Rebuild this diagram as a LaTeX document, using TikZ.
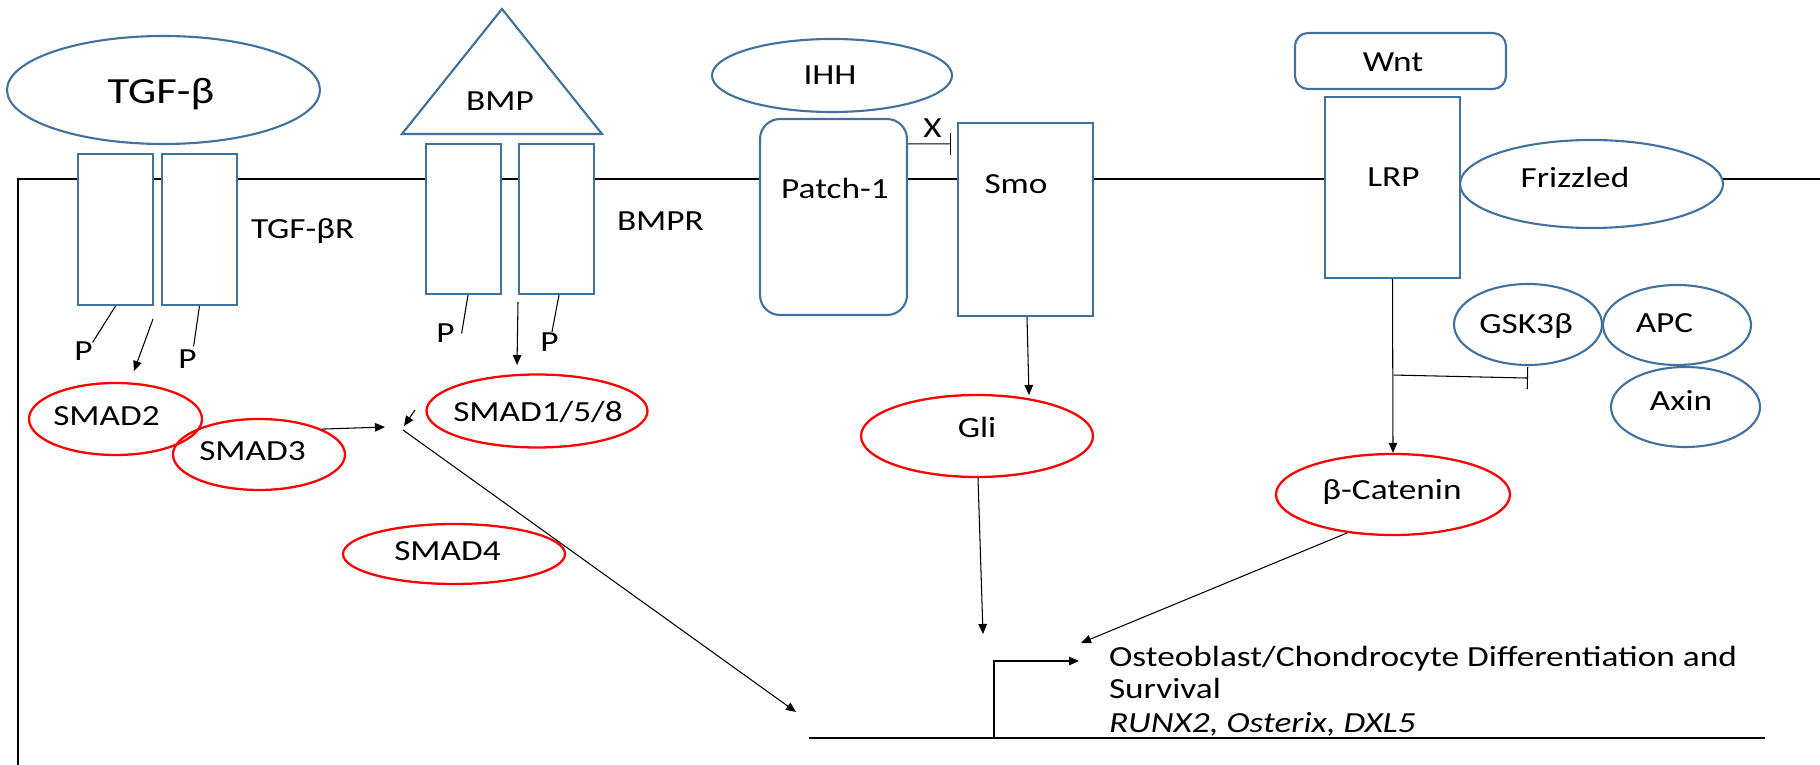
\documentclass[tikz,border=0pt]{standalone}
\usepackage{fontspec}
\setmainfont{Carlito}
\usetikzlibrary{shapes.geometric,arrows.meta,calc}
\definecolor{protblue}{RGB}{65,113,156}
\definecolor{factorred}{RGB}{255,0,0}
\newcommand{\wtext}[1]{\scalebox{1.21}[1]{#1}}

\tikzset{
  lbl/.style={font=\fontsize{8.3}{9.5}\selectfont, text height=5.2pt, text depth=0pt, inner sep=0pt, outer sep=0pt},
  biglbl/.style={font=\fontsize{10.5}{12}\selectfont, text height=6.6pt, text depth=0pt, inner sep=0pt, outer sep=0pt},
  protein/.style={ellipse, draw=protblue, line width=0.6pt, fill=white, inner sep=0pt},
  factor/.style={ellipse, draw=factorred, line width=0.65pt, inner sep=0pt},
  recbox/.style={rectangle, draw=protblue, line width=0.6pt, fill=white, inner sep=0pt},
  membrane/.style={line width=0.6pt},
  dna/.style={line width=0.65pt},
  link/.style={line width=0.3pt},
  signal/.style={link, -{Triangle[length=1mm,width=0.85mm]}},
  inhibit/.style={link, -{Bar[width=2.2mm]}},
}

\begin{document}
\begin{tikzpicture}[x=0.1mm, y=-0.1mm]
\useasboundingbox (0,0) rectangle (1820,765);

% cell membrane
\coordinate (cellBL) at (18,765);
\coordinate (cellTL) at (18,179);
\coordinate (cellTR) at (1820,179);
\draw[membrane] (cellBL) -- (cellTL) -- (cellTR);

% ---------------- TGF-beta pathway ----------------
\node[protein, minimum width=31.3mm, minimum height=10.8mm] (tgf) at (163.5,90) {};
\node[biglbl] (tgfT) at (161,91.5) {\wtext{TGF-β}};
\node[recbox, minimum width=7.5mm, minimum height=15.1mm] (tgfr1) at (115.5,229.5) {};
\node[recbox, minimum width=7.5mm, minimum height=15.1mm] (tgfr2) at (199.5,229.5) {};
\node[lbl, anchor=west] (tgfrT) at (251,229) {\wtext{TGF-βR}};
\node[lbl] (tp1) at (83.5,351.5) {\wtext{P}};
\node[lbl] (tp2) at (187.5,359.5) {\wtext{P}};
\draw[link] (tgfr1.south) -- (tp1.north east);
\draw[link] (tgfr2.south) -- ($(tp2.north east)+(-3,-4)$);
\coordinate (tgfout) at (153,319);
\coordinate (tgfdst) at (134,371);
\draw[signal] (tgfout) -- (tgfdst);

% ---------------- BMP pathway ----------------
\coordinate (bmpL) at (402,134);
\coordinate (bmpA) at (502,9);
\coordinate (bmpR) at (602,134);
\draw[draw=protblue, line width=0.6pt, fill=white] (bmpL) -- (bmpA) -- (bmpR) -- cycle;
\node[lbl] (bmpT) at (500,101) {\wtext{BMP}};
\node[recbox, minimum width=7.5mm, minimum height=15mm] (bmpr1) at (463.5,219) {};
\node[recbox, minimum width=7.5mm, minimum height=15mm] (bmpr2) at (556.5,219) {};
\node[lbl, anchor=west] (bmprT) at (617,221.5) {\wtext{BMPR}};
\node[lbl] (bp1) at (445.5,333.5) {\wtext{P}};
\node[lbl] (bp2) at (549.5,342) {\wtext{P}};
\draw[link] ([xshift=0.45mm]bmpr1.south) -- ($(bp1.east)+(7,0)$);
\draw[link] ([xshift=0.25mm]bmpr2.south) -- ($(bp2.north)+(2.5,-1)$);
\coordinate (bmpout) at (518,302);
\coordinate (bmpdst) at (517,365);
\draw[signal] (bmpout) -- (bmpdst);

% SMAD proteins
\node[factor, minimum width=17.3mm, minimum height=7.2mm] (smad2) at (115.5,419) {};
\node[lbl] (smad2T) at (106.5,416.5) {\wtext{SMAD2}};
\node[factor, minimum width=17.2mm, minimum height=7.1mm] (smad3) at (259,454.5) {};
\node[lbl] (smad3T) at (252.5,451.5) {\wtext{SMAD3}};
\node[factor, minimum width=22.1mm, minimum height=7.3mm] (smad158) at (537,411) {};
\node[lbl] (smad158T) at (538,412.5) {\wtext{SMAD1/5/8}};
\node[factor, minimum width=22.2mm, minimum height=6.0mm] (smad4) at (454,554) {};
\node[lbl] (smad4T) at (447.5,551.5) {\wtext{SMAD4}};
\coordinate (smadjoin) at (385,427);
\draw[signal] (smad3.22) -- (smadjoin);
\coordinate (bmpsmadA) at (415,410);
\coordinate (bmpsmadB) at (404,426);
\draw[signal] (bmpsmadA) -- (bmpsmadB);
\coordinate (smadout) at (403,430);
\coordinate (smadtip) at (796,712);
\draw[signal] (smadout) -- (smadtip);

% ---------------- Hedgehog pathway ----------------
\node[protein, minimum width=24mm, minimum height=7.3mm] (ihh) at (832,75.5) {};
\node[lbl] (ihhT) at (830,75.5) {\wtext{IHH}};
\node[recbox, rounded corners=2mm, minimum width=14.7mm, minimum height=19.6mm] (patch) at (833.5,217) {};
\node[lbl] (patchT) at (835,189) {\wtext{Patch-1}};
\node[recbox, minimum width=13.5mm, minimum height=19.3mm] (smo) at (1025.5,219.5) {};
\node[lbl] (smoT) at (1016,184) {\wtext{Smo}};
\node[lbl] (xT) at (932.5,128.5) {\wtext{X}};
\draw[inhibit] ($(patch.north east)+(0,26)$) -- ($(smo.north west)+(-6,22)$);
\node[factor, minimum width=23.2mm, minimum height=8.2mm] (gli) at (977,436) {};
\node[lbl] (gliT) at (977,428.5) {\wtext{Gli}};
\draw[signal] ([xshift=0.15mm]smo.south) -- ($(smo.south)+(3.5,78)$);
\coordinate (glitip) at (983,634);
\draw[signal] ([xshift=0.1mm]gli.south) -- (glitip);

% ---------------- Wnt pathway ----------------
\node[recbox, rounded corners=1.3mm, minimum width=21.1mm, minimum height=5.6mm] (wnt) at (1400.5,61) {};
\node[lbl] (wntT) at (1393,62.5) {\wtext{Wnt}};
\node[recbox, minimum width=13.5mm, minimum height=18.1mm] (lrp) at (1392.5,187.5) {};
\node[lbl] (lrpT) at (1393.5,177.5) {\wtext{LRP}};
\node[protein, minimum width=26.3mm, minimum height=8.8mm] (frizzled) at (1591.5,184) {};
\node[lbl] (frizzledT) at (1575,178) {\wtext{Frizzled}};
\node[protein, minimum width=14.8mm, minimum height=8.1mm] (gsk) at (1528,324.5) {};
\node[lbl] (gskT) at (1526,324) {\wtext{GSK3β}};
\node[protein, minimum width=14.8mm, minimum height=8.0mm] (apc) at (1677,325) {};
\node[lbl] (apcT) at (1664.5,323.5) {\wtext{APC}};
\node[protein, minimum width=14.9mm, minimum height=8.0mm] (axin) at (1685.5,407) {};
\node[lbl] (axinT) at (1681,401) {\wtext{Axin}};
\node[factor, minimum width=23.4mm, minimum height=8.1mm] (bcat) at (1393,494.5) {};
\node[lbl] (bcatT) at (1392,490) {\wtext{β-Catenin}};
\draw[signal] (lrp.south) -- (bcat.north);
\coordinate (branch) at ($(lrp.south)+(1,96)$);
\coordinate (gskbar) at ($(gsk.south)+(0,12)$);
\draw[inhibit] (branch) -- (gskbar);
\coordinate (bcattip) at (1081,643);
\draw[signal] (bcat.220) -- (bcattip);

% ---------------- target genes ----------------
\coordinate (dnaL) at (809,738);
\coordinate (dnaR) at (1765,738);
\draw[dna] (dnaL) -- (dnaR);
\coordinate (tss) at (994,738);
\coordinate (tssend) at (1079,661);
\draw[signal] (tss) |- (tssend);
\node[lbl, anchor=base west] (out1) at (1109,667) {\wtext{Osteoblast/Chondrocyte Differentiation and}};
\node[lbl, anchor=base west] (out2) at (1109,699) {\wtext{Survival}};
\node[lbl, anchor=base west] (out3) at (1109,733) {\wtext{\itshape RUNX2, Osterix, DXL5}};
\end{tikzpicture}
\end{document}
